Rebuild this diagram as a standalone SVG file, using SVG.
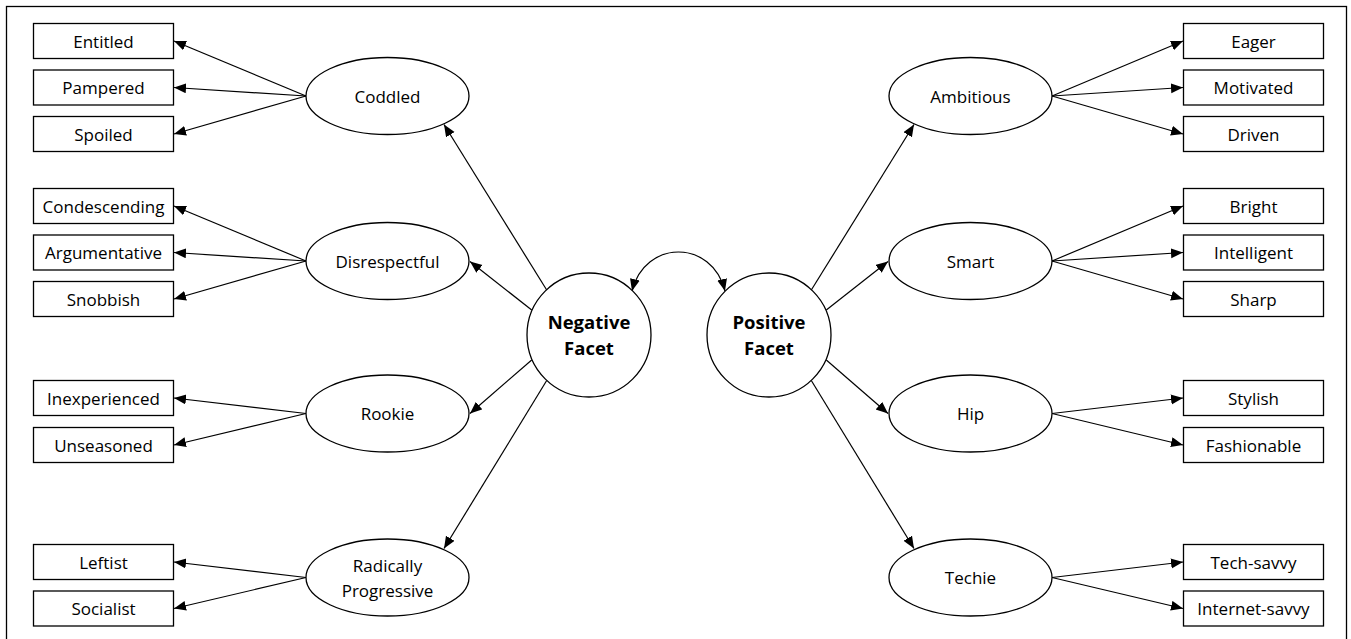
<svg xmlns="http://www.w3.org/2000/svg" width="1351" height="639" viewBox="0 0 1351 639">
<style>
.box{fill:#fff;stroke:#000;stroke-width:1.3}
.ell{fill:#fff;stroke:#000;stroke-width:1.3}
.t{font-family:"Open Sans","Liberation Sans",sans-serif;font-size:17px;fill:#000;text-anchor:middle}
.b{font-weight:bold;font-size:18.5px}
.c{fill:none;stroke:#000;stroke-width:1.2;marker-end:url(#ah)}
</style>
<defs>
<marker id="ah" markerUnits="userSpaceOnUse" markerWidth="13" markerHeight="11" refX="12" refY="5" orient="auto-start-reverse">
<path d="M0,0 L12,5 L0,10 z" fill="#000"/>
</marker>
</defs>
<rect x="6.5" y="6.5" width="1340" height="640" fill="#fff" stroke="#000" stroke-width="1.3"/>
<g id="connectors">
<path class="c" d="M306,96 L174,41"/>
<path class="c" d="M306,96 L174,87.5"/>
<path class="c" d="M306,96 L174,134"/>
<path class="c" d="M306,261 L174,206"/>
<path class="c" d="M306,261 L174,252.5"/>
<path class="c" d="M306,261 L174,299"/>
<path class="c" d="M306,413.5 L174,398"/>
<path class="c" d="M306,413.5 L174,445"/>
<path class="c" d="M306,577.5 L174,562"/>
<path class="c" d="M306,577.5 L174,608.5"/>
<path class="c" d="M1052,96 L1183,41"/>
<path class="c" d="M1052,96 L1183,87.5"/>
<path class="c" d="M1052,96 L1183,134"/>
<path class="c" d="M1052,261 L1183,206"/>
<path class="c" d="M1052,261 L1183,252.5"/>
<path class="c" d="M1052,261 L1183,299"/>
<path class="c" d="M1052,413.5 L1183,398"/>
<path class="c" d="M1052,413.5 L1183,445"/>
<path class="c" d="M1052,577.5 L1183,562"/>
<path class="c" d="M1052,577.5 L1183,608.5"/>
<path class="c" d="M546.7,290 L444,124.5"/>
<path class="c" d="M531.7,310 L470,261.5"/>
<path class="c" d="M531.7,360 L470,413.5"/>
<path class="c" d="M546.7,380.5 L444,548.5"/>
<path class="c" d="M811.3,290 L914,124.5"/>
<path class="c" d="M826.3,310 L888,261.5"/>
<path class="c" d="M826.3,360 L888,413.5"/>
<path class="c" d="M811.3,380.5 L914,548.5"/>
<path class="c" d="M632,291 C645,239 712,239 725,291" style="marker-start:url(#ah)"/>
</g>
<g id="negative-facet"><circle class="ell" cx="589" cy="335" r="62"/><text class="t b" x="589" y="329">Negative</text><text class="t b" x="589" y="355">Facet</text></g>
<g id="positive-facet"><circle class="ell" cx="769" cy="335" r="62"/><text class="t b" x="769" y="329">Positive</text><text class="t b" x="769" y="355">Facet</text></g>
<g id="coddled"><ellipse class="ell" cx="387.5" cy="96" rx="81.5" ry="38.5"/><text class="t" x="387.5" y="102.5">Coddled</text></g>
<g id="disrespectful"><ellipse class="ell" cx="387.5" cy="261" rx="81.5" ry="38.5"/><text class="t" x="387.5" y="267.5">Disrespectful</text></g>
<g id="rookie"><ellipse class="ell" cx="387.5" cy="413.5" rx="81.5" ry="38.5"/><text class="t" x="387.5" y="420">Rookie</text></g>
<g id="radically-progressive"><ellipse class="ell" cx="387.5" cy="577.5" rx="81.5" ry="38.5"/><text class="t" x="387.5" y="571.5">Radically</text><text class="t" x="387.5" y="596.5">Progressive</text></g>
<g id="ambitious"><ellipse class="ell" cx="970.5" cy="96" rx="81.5" ry="38.5"/><text class="t" x="970.5" y="102.5">Ambitious</text></g>
<g id="smart"><ellipse class="ell" cx="970.5" cy="261" rx="81.5" ry="38.5"/><text class="t" x="970.5" y="267.5">Smart</text></g>
<g id="hip"><ellipse class="ell" cx="970.5" cy="413.5" rx="81.5" ry="38.5"/><text class="t" x="970.5" y="420">Hip</text></g>
<g id="techie"><ellipse class="ell" cx="970.5" cy="577.5" rx="81.5" ry="38.5"/><text class="t" x="970.5" y="584">Techie</text></g>
<g id="entitled"><rect class="box" x="33.5" y="23.5" width="140" height="35"/><text class="t" x="103.5" y="47.5">Entitled</text></g>
<g id="pampered"><rect class="box" x="33.5" y="70" width="140" height="35"/><text class="t" x="103.5" y="94">Pampered</text></g>
<g id="spoiled"><rect class="box" x="33.5" y="116.5" width="140" height="35"/><text class="t" x="103.5" y="140.5">Spoiled</text></g>
<g id="condescending"><rect class="box" x="33.5" y="188.5" width="140" height="35"/><text class="t" x="103.5" y="212.5">Condescending</text></g>
<g id="argumentative"><rect class="box" x="33.5" y="235" width="140" height="35"/><text class="t" x="103.5" y="259">Argumentative</text></g>
<g id="snobbish"><rect class="box" x="33.5" y="281.5" width="140" height="35"/><text class="t" x="103.5" y="305.5">Snobbish</text></g>
<g id="inexperienced"><rect class="box" x="33.5" y="380.5" width="140" height="35"/><text class="t" x="103.5" y="404.5">Inexperienced</text></g>
<g id="unseasoned"><rect class="box" x="33.5" y="427.5" width="140" height="35"/><text class="t" x="103.5" y="451.5">Unseasoned</text></g>
<g id="leftist"><rect class="box" x="33.5" y="544.5" width="140" height="35"/><text class="t" x="103.5" y="568.5">Leftist</text></g>
<g id="socialist"><rect class="box" x="33.5" y="591" width="140" height="35"/><text class="t" x="103.5" y="615">Socialist</text></g>
<g id="eager"><rect class="box" x="1183.5" y="23.5" width="140" height="35"/><text class="t" x="1253.5" y="47.5">Eager</text></g>
<g id="motivated"><rect class="box" x="1183.5" y="70" width="140" height="35"/><text class="t" x="1253.5" y="94">Motivated</text></g>
<g id="driven"><rect class="box" x="1183.5" y="116.5" width="140" height="35"/><text class="t" x="1253.5" y="140.5">Driven</text></g>
<g id="bright"><rect class="box" x="1183.5" y="188.5" width="140" height="35"/><text class="t" x="1253.5" y="212.5">Bright</text></g>
<g id="intelligent"><rect class="box" x="1183.5" y="235" width="140" height="35"/><text class="t" x="1253.5" y="259">Intelligent</text></g>
<g id="sharp"><rect class="box" x="1183.5" y="281.5" width="140" height="35"/><text class="t" x="1253.5" y="305.5">Sharp</text></g>
<g id="stylish"><rect class="box" x="1183.5" y="380.5" width="140" height="35"/><text class="t" x="1253.5" y="404.5">Stylish</text></g>
<g id="fashionable"><rect class="box" x="1183.5" y="427.5" width="140" height="35"/><text class="t" x="1253.5" y="451.5">Fashionable</text></g>
<g id="tech-savvy"><rect class="box" x="1183.5" y="544.5" width="140" height="35"/><text class="t" x="1253.5" y="568.5">Tech-savvy</text></g>
<g id="internet-savvy"><rect class="box" x="1183.5" y="591" width="140" height="35"/><text class="t" x="1253.5" y="615">Internet-savvy</text></g>
</svg>
